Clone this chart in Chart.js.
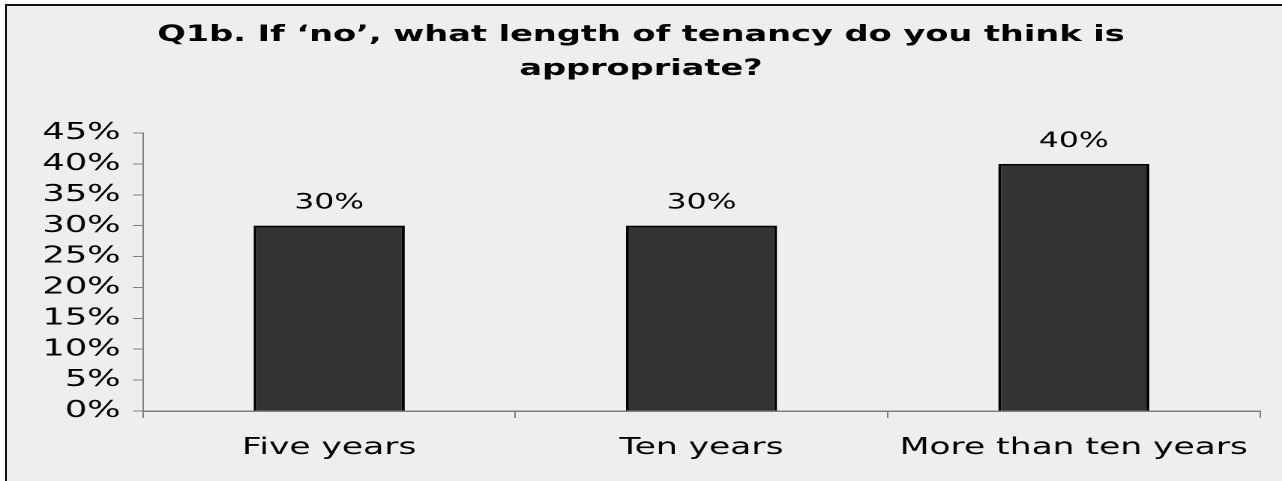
<!DOCTYPE html>
<html><head><meta charset="utf-8">
<script src="https://cdn.jsdelivr.net/npm/chart.js@4.4.1/dist/chart.umd.min.js"></script>
<style>
html,body{margin:0;padding:0;width:1282px;height:481px;overflow:hidden;background:#fff;}
#frame{position:absolute;left:5px;top:4px;width:1290px;height:490px;border-left:2px solid #111;border-top:2px solid #111;background:#eeeeee;}
#wrap{position:absolute;left:0;top:0;width:855px;height:481px;transform:scaleX(1.49942);transform-origin:0 0;}
canvas{display:block;}
</style></head><body>
<div id="frame"></div>
<div id="wrap"><canvas id="c" width="855" height="481" style="width:855px;height:481px"></canvas></div>
<script>
const titleLines = ["Q1b. If \u2018no\u2019, what length of tenancy do you think is", "appropriate?"];
const categories = ["Five years", "Ten years", "More than ten years"];
const values = [30, 30, 40];
const yTicks = [0, 5, 10, 15, 20, 25, 30, 35, 40, 45];

const FONT = "'DejaVu Sans', Verdana, sans-serif";
Chart.defaults.color = '#000';
Chart.defaults.font.family = FONT;

const valueLabels = {
  id: 'valueLabels',
  afterDatasetsDraw(chart) {
    const ctx = chart.ctx;
    const meta = chart.getDatasetMeta(0);
    ctx.save();
    ctx.font = "21px " + FONT;
    ctx.fillStyle = '#000';
    ctx.textAlign = 'center';
    ctx.textBaseline = 'alphabetic';
    meta.data.forEach((bar, i) => {
      ctx.fillText(values[i] + '%', bar.x, bar.y - 17);
    });
    ctx.restore();
  }
};

new Chart(document.getElementById('c'), {
  type: 'bar',
  data: {
    labels: categories,
    datasets: [{
      data: values,
      backgroundColor: '#333333',
      borderColor: '#000000',
      borderWidth: 2,
      borderSkipped: 'bottom',
      barPercentage: 0.406,
      categoryPercentage: 1.0
    }]
  },
  options: {
    responsive: false,
    animation: false,
    devicePixelRatio: 2,
    layout: { padding: { left: 14.7, right: 14.7, top: 0, bottom: 0 } },
    plugins: {
      legend: { display: false },
      tooltip: { enabled: false },
      title: {
        display: true,
        text: titleLines,
        color: '#000',
        font: { family: FONT, size: 22.4, weight: 'bold', lineHeight: 34/22.4 },
        padding: { top: 18, bottom: 47 }
      }
    },
    scales: {
      x: {
        offset: true,
        grid: { display: true, drawOnChartArea: false, drawTicks: true, tickLength: 7, color: '#808080', offset: true },
        border: { display: true, color: '#808080', width: 1.5 },
        ticks: { font: { family: FONT, size: 23 }, color: '#000', padding: 16, maxRotation: 0, autoSkip: false },
        afterFit(s) { s.height = 70; }
      },
      y: {
        min: 0, max: 45,
        afterBuildTicks(s) { s.ticks = yTicks.map(v => ({ value: v })); },
        grid: { display: true, drawOnChartArea: false, drawTicks: true, tickLength: 6.7, color: '#808080' },
        border: { display: true, color: '#808080', width: 1 },
        ticks: { font: { family: FONT, size: 23.5 }, color: '#000', padding: 8.2, autoSkip: false, callback: v => v + '%' },
        afterFit(s) { s.width = 80.7; }
      }
    }
  },
  plugins: [valueLabels]
});
</script>
</body></html>
